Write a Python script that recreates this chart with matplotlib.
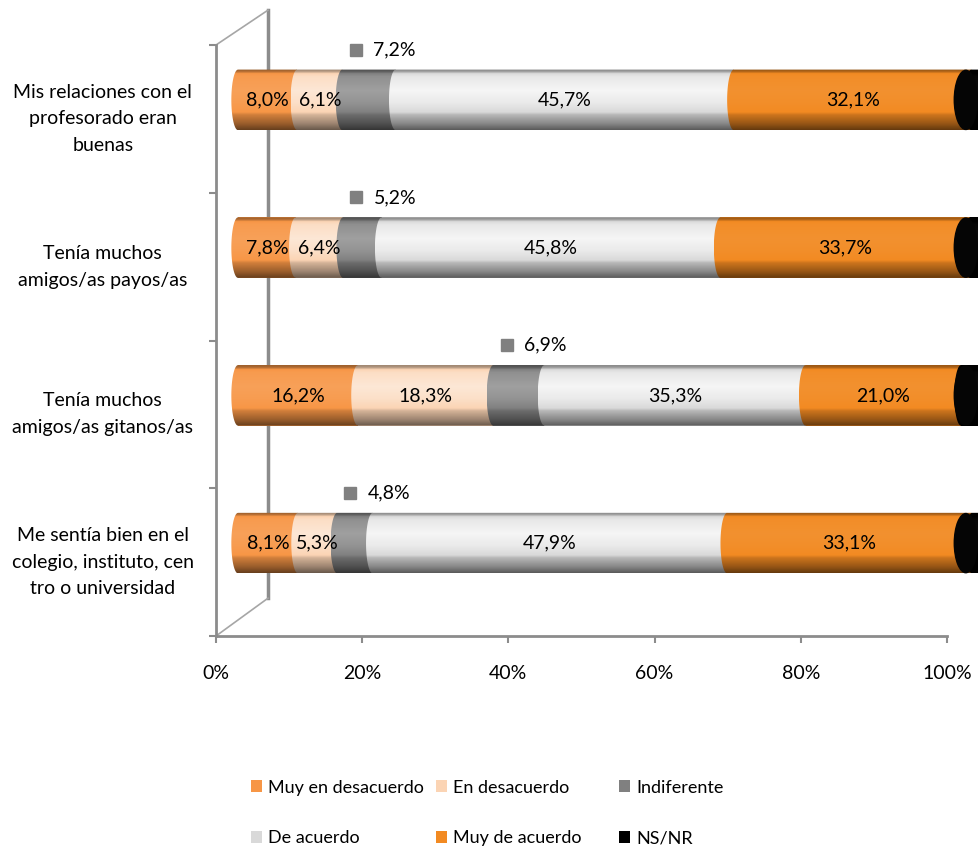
import numpy as np
import matplotlib
matplotlib.use('Agg')
import matplotlib.pyplot as plt
from matplotlib.patches import Patch, PathPatch, Ellipse
from matplotlib.path import Path

plt.rcParams['font.family'] = ['Lato', 'DejaVu Sans']

# ---------------- data ----------------
categories = ["Mis relaciones con el\nprofesorado eran\nbuenas",
              "Tenía muchos\namigos/as payos/as",
              "Tenía muchos\namigos/as gitanos/as",
              "Me sentía bien en el\ncolegio, instituto, cen\ntro o universidad"]
series_names = ["Muy en desacuerdo", "En desacuerdo", "Indiferente",
                "De acuerdo", "Muy de acuerdo", "NS/NR"]
muy_en_desacuerdo = [8.0, 7.8, 16.2, 8.1]
en_desacuerdo = [6.1, 6.4, 18.3, 5.3]
indiferente = [7.2, 5.2, 6.9, 4.8]
de_acuerdo = [45.7, 45.8, 35.3, 47.9]
muy_de_acuerdo = [32.1, 33.7, 21.0, 33.1]
ns_nr = [0.9, 1.1, 2.3, 0.8]
xticks = [0, 20, 40, 60, 80, 100]
xtick_labels = ["0%", "20%", "40%", "60%", "80%", "100%"]

series = [muy_en_desacuerdo, en_desacuerdo, indiferente, de_acuerdo, muy_de_acuerdo, ns_nr]
colors = ['#F79646', '#FBD4B4', '#808080', '#D9D9D9', '#F28A22', '#000000']
highlight = [0.1, 0.45, 0.25, 0.75, 0.06, 0.05]

FS = 14
LFS = 13
AXC = '#8C8C8C'

def fmt(v):
    return f"{v:.1f}".replace('.', ',') + '%'

fig = plt.figure(figsize=(9.8, 8.52), dpi=100)

# ---------------- front plane axes (ticks / labels) ----------------
ax = fig.add_axes([216/980, 1-636/852, 731/980, 591/852])
ax.set_xlim(0, 100)
ax.set_ylim(4, 0)
ax.set_xticks(xticks)
ax.set_xticklabels(xtick_labels, fontsize=FS)
ax.set_yticks([0, 1, 2, 3, 4])
ax.set_yticklabels([])
ax.tick_params(axis='x', length=5, width=1.5, color=AXC, pad=16)
ax.tick_params(axis='y', length=5, width=1.5, color=AXC)
for s in ['top', 'right']:
    ax.spines[s].set_visible(False)
for s in ['left', 'bottom']:
    ax.spines[s].set_color(AXC)
    ax.spines[s].set_linewidth(2)
ax.patch.set_visible(False)

# 3D wall lines
wx = 52/731
ax.plot([wx, wx], [0.064, 1.059], color=AXC, lw=2.5, transform=ax.transAxes, clip_on=False)
ax.plot([0, wx], [1.0, 1.059], color='#A6A6A6', lw=1.2, transform=ax.transAxes, clip_on=False)
ax.plot([0, wx], [0.0, 0.064], color='#A6A6A6', lw=1.2, transform=ax.transAxes, clip_on=False)

# category labels
for i, c in enumerate(categories):
    ax.text(-0.155, i + 0.5, c, transform=ax.get_yaxis_transform(), ha='center', va='center',
            fontsize=FS, linespacing=1.7)

# ---------------- bars axes (depth-shifted) ----------------
XMIN = -2.0
PXU = 7.4
bx = fig.add_axes([(238 + XMIN*PXU)/980, 1-617/852, (100 - XMIN)*PXU/980, 591/852])
bx.set_xlim(XMIN, 100)
bx.set_ylim(4, 0)
bx.axis('off')

t = np.linspace(0, 1, 100)
prof = np.interp(t, [0, 0.04, 0.12, 0.35, 0.55, 0.75, 0.9, 1.0],
                 [-0.4, -0.25, 0.5, 1.0, 0.6, -0.15, -0.38, -0.58])

h = 0.41
rx = 0.9          # half-width of the rounded segment ends (data units)
capw = 3.3        # width of the end face of the cylinder (data units)
ypos = np.arange(len(categories)) + 0.5
left = np.zeros(len(categories))


def seg_path(l, v, yc):
    ry = h / 2
    phi = np.linspace(0, np.pi, 30)
    verts = [(l + v, yc - ry)]
    verts += [(l - rx * np.sin(p), yc - ry * np.cos(p)) for p in phi]
    verts += [(l + v, yc + ry), (l + v, yc - ry)]
    codes = [Path.MOVETO] + [Path.LINETO] * (len(verts) - 2) + [Path.CLOSEPOLY]
    return Path(verts, codes)


for k, (vals, col) in enumerate(zip(series, colors)):
    vals = np.array(vals)
    bars = bx.barh(ypos, vals, left=left, height=h, color=col, edgecolor='none', zorder=2)
    base = np.array(matplotlib.colors.to_rgb(col))
    img = np.zeros((len(t), 1, 3))
    for j, s in enumerate(prof):
        if s >= 0:
            a = s * highlight[k]
            img[j, 0] = base * (1 - a) + a
        else:
            img[j, 0] = base * (1 + s)
    for l, v, yc in zip(left, vals, ypos):
        im = bx.imshow(img, extent=(l - rx, l + v, yc + h/2, yc - h/2), aspect='auto',
                       origin='upper', zorder=3, interpolation='bilinear')
        pp = PathPatch(seg_path(l, v, yc), transform=bx.transData, facecolor='none', edgecolor='none')
        im.set_clip_path(pp)
    # labels
    for l, v, yc in zip(left, vals, ypos):
        if k in (0, 1, 3, 4):
            bx.text(l + v/2, yc, fmt(v), ha='center', va='center', fontsize=FS, zorder=6)
        elif k == 2:
            xs = l + 1.8
            bx.plot([xs], [yc - 0.34], marker='s', ms=8.5, color=col, clip_on=False, zorder=6)
            bx.text(xs + 2.4, yc - 0.34, fmt(v), ha='left', va='center', fontsize=FS, zorder=6)
    left = left + vals

# cylinder end faces
for tot, yc in zip(left, ypos):
    bx.add_patch(Ellipse((tot - capw/2, yc), capw, h, facecolor='#050505', edgecolor='none',
                         zorder=5, clip_on=False))

bx.set_xlim(XMIN, 100)
bx.set_ylim(4, 0)

# ---------------- legend ----------------
handles = [Patch(facecolor=c, edgecolor='none') for c in colors]
col_x = [251, 436, 619]
for ci in range(3):
    hs = [handles[ci], handles[ci + 3]]
    ls = [series_names[ci], series_names[ci + 3]]
    fig.legend(hs, ls, loc='center left', bbox_to_anchor=(col_x[ci]/980, 1 - 813/852),
               frameon=False, fontsize=LFS, handlelength=0.6, handleheight=0.6,
               handletextpad=0.35, labelspacing=1.93, borderpad=0, borderaxespad=0)

fig.savefig('out.png', dpi=100)
